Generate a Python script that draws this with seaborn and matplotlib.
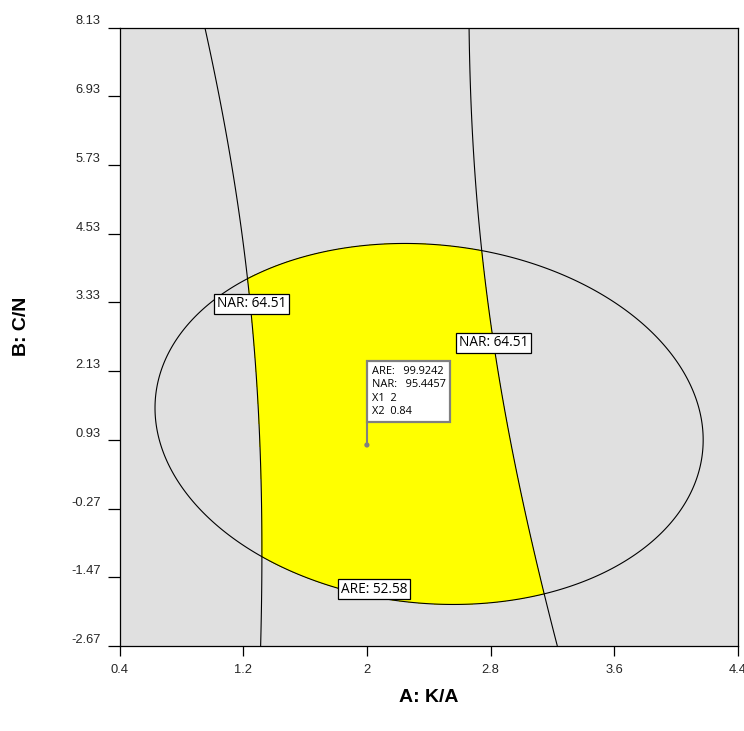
import numpy as np
import matplotlib
matplotlib.use("Agg")
import matplotlib.pyplot as plt
import seaborn as sns

# ---- data ----
# quadratic response models: [b0, bA, bB, bAB, bAA, bBB]
are_coef = [-3.03, 80.47, 16.39, -1.629, -16.34, -5.168]
nar_coef = [-124.57, 206.64, 6.039, -4.131, -47.90, 0.282]
are_level = 52.58
nar_level = 64.51

x_ticks = [0.4, 1.2, 2, 2.8, 3.6, 4.4]
y_ticks = [-2.67, -1.47, -0.27, 0.93, 2.13, 3.33, 4.53, 5.73, 6.93, 8.13]

flag_point = [2, 0.84]
flag_are = 99.9242
flag_nar = 95.4457

x_label = "A: K/A"
y_label = "B: C/N"


def model(c, A, B):
    return c[0] + c[1] * A + c[2] * B + c[3] * A * B + c[4] * A ** 2 + c[5] * B ** 2


sns.set_theme(style="white")
plt.rcParams["font.family"] = ["Liberation Sans", "DejaVu Sans"]

fig = plt.figure(figsize=(7.44, 7.31), dpi=100)
ax = fig.add_axes([119.5 / 744, 85 / 731, 618.5 / 744, 618.5 / 731])
ax.set_facecolor("#E0E0E0")

a = np.linspace(x_ticks[0], x_ticks[-1], 900)
b = np.linspace(y_ticks[0], y_ticks[-1], 900)
A, B = np.meshgrid(a, b)
ARE = model(are_coef, A, B)
NAR = model(nar_coef, A, B)

ok = np.minimum(ARE - are_level, NAR - nar_level)
ax.contourf(A, B, ok, levels=[0, 1e9], colors=["#FFFF00"])
ax.contour(A, B, ARE, levels=[are_level], colors="black", linewidths=0.8)
ax.contour(A, B, NAR, levels=[nar_level], colors="black", linewidths=0.8)

lab_font = dict(family=["Open Sans", "DejaVu Sans"], fontsize=9.8, color="black")
box = dict(boxstyle="square,pad=0.2", fc="white", ec="black", lw=0.9)
ax.text(1.254, 3.302, f"NAR: {nar_level:.2f}", ha="center", va="center", bbox=box, **lab_font)
ax.text(2.819, 2.621, f"NAR: {nar_level:.2f}", ha="center", va="center", bbox=box, **lab_font)
ax.text(2.046, -1.675, f"ARE: {are_level:.2f}", ha="center", va="center", bbox=box, **lab_font)

# flag
top_b = 1.242
ax.plot([flag_point[0], flag_point[0]], [flag_point[1], top_b], color="#808080", lw=1.5)
sns.scatterplot(x=[flag_point[0]], y=[flag_point[1]], ax=ax, color="#808080", s=14,
                edgecolor="none", zorder=5)
flag_txt = (f"ARE:   {flag_are:.4f}\nNAR:   {flag_nar:.4f}\n"
            f"X1  {flag_point[0]:g}\nX2  {flag_point[1]:g}")
ax.annotate(flag_txt, xy=(flag_point[0], top_b), xytext=(3.4, 3.4), textcoords="offset points",
            ha="left", va="bottom", linespacing=1.3,
            family=["Open Sans", "DejaVu Sans"], fontsize=7.9, color="black",
            bbox=dict(boxstyle="square,pad=0.45", fc="white", ec="#808080", lw=1.6))

ax.set_xlim(x_ticks[0], x_ticks[-1])
ax.set_ylim(y_ticks[0], y_ticks[-1])
ax.set_xticks(x_ticks)
ax.set_xticklabels([f"{v:g}" for v in x_ticks])
ax.set_yticks(y_ticks)
ax.set_yticklabels([f"{v:.2f}" for v in y_ticks])
ax.tick_params(axis="x", direction="out", length=7, width=0.9, color="black",
               labelsize=9.3, pad=6, bottom=True)
ax.tick_params(axis="y", direction="out", length=8.6, width=0.9, color="black",
               labelsize=9.3, pad=5, left=True)
for t in ax.get_yticklabels():
    t.set_va("bottom")
for s in ax.spines.values():
    s.set_color("black")
    s.set_linewidth(0.9)
ax.grid(False)

fig.text(428.75 / 744, 1 - 697 / 731, x_label, ha="center", va="center",
         fontsize=14, fontweight="bold", color="black")
fig.text(22 / 744, 1 - 326 / 731, y_label, ha="center", va="center", rotation=90,
         fontsize=14, fontweight="bold", color="black")

fig.savefig("out.png", dpi=100, facecolor="white")
